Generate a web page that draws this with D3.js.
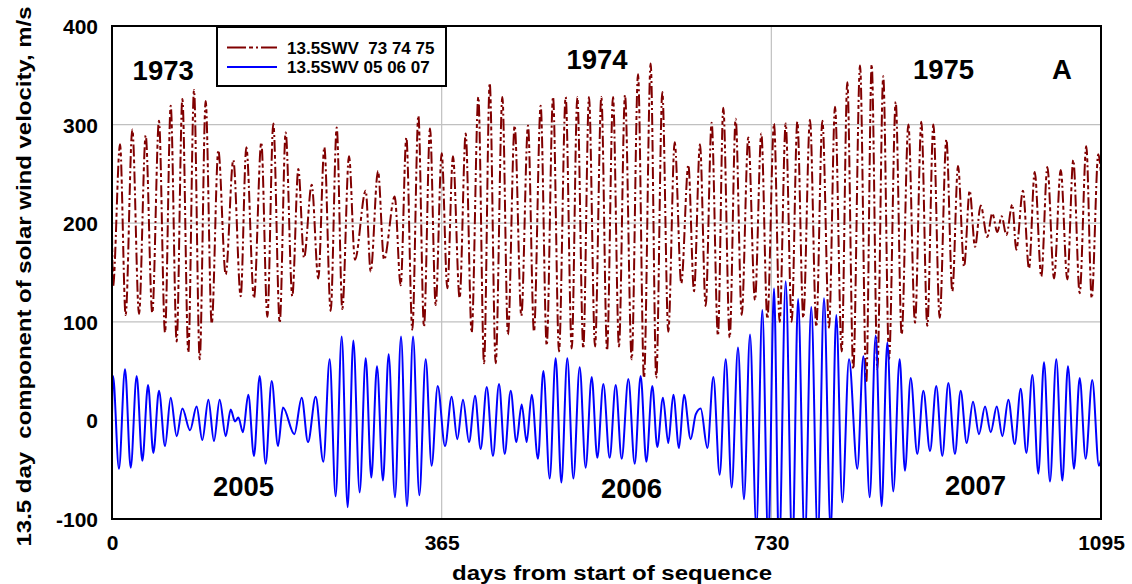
<!DOCTYPE html>
<html>
<head>
<meta charset="utf-8">
<script src="https://cdn.jsdelivr.net/npm/d3@7"></script>
<style>
  body { margin: 0; background: #fff; }
  text { font-family: 'Liberation Sans', Arial, sans-serif; font-weight: bold; fill: #000; white-space: pre; }
</style>
</head>
<body>
<svg id="chart" width="1132" height="584"></svg>
<script>
// peaks and troughs of the 13.5 day component
const redDays = [0, 1.1, 8.9, 15.1, 22.5, 29.9, 37.3, 44.6, 52.0, 58.7, 65.0, 71.6, 77.9, 84.5, 90.8, 97.1,
  103.7, 110.4, 117.7, 125.9, 134.3, 142.5, 148.7, 157.2, 165.3, 172.0, 178.6, 185.7, 192.3, 199.6, 206.3,
  212.6, 221.1, 228.4, 235.1, 242.1, 248.8, 255.0, 262.4, 269.0, 280.9, 286.4, 294.5, 301.2, 313.0, 319.6,
  325.9, 332.5, 339.2, 345.4, 352.1, 358.4, 365.0, 371.3, 377.5, 384.9, 391.6, 398.2, 405.6, 411.9, 418.2,
  424.8, 432.2, 438.4, 445.8, 453.2, 460.6, 467.2, 474.6, 481.3, 488.3, 494.9, 502.3, 509.0, 515.2, 521.8,
  528.1, 534.8, 541.8, 548.1, 554.7, 561.3, 568.0, 575.4, 582.4, 589.0, 596.4, 602.6, 609.3, 615.9, 623.0,
  630.3, 638.1, 644.4, 651.0, 657.3, 663.9, 670.9, 676.8, 683.9, 690.5, 697.2, 704.5, 711.9, 718.9, 725.6,
  733.0, 739.2, 745.9, 752.5, 758.8, 765.4, 772.8, 779.8, 786.5, 793.9, 800.5, 807.9, 814.1, 820.7, 828.2,
  835.1, 841.1, 847.4, 853.9, 860.3, 867.7, 874.3, 881.7, 889.1, 896.1, 902.7, 909.4, 916.4, 923.8, 930.4,
  936.7, 943.4, 949.6, 955.5, 961.8, 969.1, 974.6, 980.2, 985.0, 990.2, 996.8, 1001.2, 1008.6, 1015.3,
  1021.6, 1028.9, 1035.6, 1043.0, 1050.4, 1057.7, 1064.3, 1071.4, 1078.7, 1084.7, 1092.0, 1095]
const redValues = [190, 136, 280, 107, 295, 108, 289, 109, 304, 89, 319, 80, 326, 69, 335, 62,
  324, 98, 274, 148, 264, 126, 277, 124, 282, 105, 301, 99, 292, 126, 255,
  165, 239, 144, 277, 111, 297, 113, 268, 163, 233, 151, 253, 163, 227, 137,
  287, 92, 309, 95, 296, 117, 271, 134, 268, 124, 291, 89, 328, 58, 342,
  58, 328, 87, 299, 106, 299, 90, 319, 76, 328, 70, 328, 73, 328, 73,
  328, 75, 328, 71, 328, 75, 330, 62, 351, 43, 362, 43, 333, 90, 282,
  139, 259, 131, 280, 116, 302, 86, 317, 84, 306, 107, 287, 122, 291, 103,
  301, 100, 301, 100, 303, 104, 305, 95, 304, 94, 318, 70, 343, 52, 360,
  38, 361, 52, 349, 62, 323, 87, 300, 99, 303, 96, 300, 104, 285, 131,
  258, 156, 233, 176, 218, 186, 210, 191, 207, 188, 219, 173, 233, 154,
  252, 146, 257, 144, 254, 143, 264, 129, 278, 124, 270, 250]

const blueDays = [0, 1.1, 7.7, 14.4, 20.7, 27.3, 33.6, 39.9, 45.8, 52.0, 58.7, 65.0, 71.6, 77.9, 86.4, 93.7,
  100.0, 106.7, 112.9, 119.2, 125.9, 131.4, 136.2, 139.9, 145.0, 150.9, 157.2, 163.5, 170.1, 176.8, 183.8,
  189.3, 201.9, 210.0, 217.0, 225.5, 234.0, 241.0, 247.6, 254.3, 260.9, 267.2, 274.2, 280.9, 287.1, 293.4,
  300.0, 306.3, 313.3, 320.0, 326.6, 333.3, 340.3, 347.3, 353.9, 360.6, 368.7, 376.1, 382.3, 388.6, 395.3,
  401.9, 408.2, 414.9, 421.8, 428.5, 434.8, 441.4, 447.7, 453.6, 459.1, 464.7, 471.6, 477.6, 484.6, 491.2,
  497.5, 504.1, 510.8, 517.8, 524.4, 531.1, 537.3, 544.0, 551.0, 557.7, 564.3, 571.7, 578.7, 585.3, 591.6,
  598.2, 603.7, 610.0, 615.9, 621.5, 627.8, 633.3, 640.7, 646.3, 651.8, 659.2, 665.8, 672.8, 679.5, 686.1,
  693.1, 699.7, 706.4, 713.4, 720.0, 726.6, 733.0, 738.5, 745.9, 753.3, 759.6, 767.0, 774.2, 781.4, 788.3,
  795.7, 801.9, 808.6, 816.0, 825.2, 831.9, 838.9, 845.5, 852.1, 858.4, 865.0, 872.1, 877.9, 884.3, 891.6,
  898.3, 905.7, 912.6, 919.3, 926.0, 933.3, 939.6, 946.3, 953.3, 959.9, 966.6, 972.9, 979.6, 985.8, 992.4,
  999.5, 1006.1, 1012.4, 1019.0, 1025.6, 1031.9, 1038.5, 1045.5, 1052.2, 1058.4, 1065.1, 1071.4, 1078.0,
  1085.3, 1092.7, 1095]
const blueValues = [5, 45, -49, 52, -48, 45, -41, 36, -33, 30, -26, 23, -16, 12, -10, 14,
  -20, 21, -21, 21, -16, 11, -1, 3, -12, 26, -36, 45, -44, 40, -26,
  13, -14, 23, -22, 24, -42, 62, -77, 85, -88, 81, -73, 63, -58, 55,
  -61, 67, -78, 85, -87, 85, -76, 62, -46, 35, -26, 24, -19, 21, -22,
  25, -29, 34, -36, 37, -34, 30, -22, 16, -22, 26, -39, 50, -59, 63,
  -63, 63, -59, 54, -48, 44, -38, 37, -38, 36, -39, 42, -44, 45, -42,
  35, -27, 23, -23, 26, -28, 26, -19, 6, 12, -28, 44, -55, 62, -68,
  74, -80, 87, -110, 112, -125, 134, -135, 141, -135, 123, -125, 115, -120, 124,
  -112, 107, -83, 62, -49, 65, -78, 86, -87, 79, -72, 62, -51, 43, -34,
  30, -31, 35, -36, 38, -34, 30, -23, 19, -14, 14, -12, 14, -16, 21,
  -24, 32, -33, 46, -54, 59, -62, 62, -61, 55, -49, 43, -39,
  41, -46, -40]

const xTicks = [0, 365, 730, 1095]
const yTicks = [-100, 0, 100, 200, 300, 400]
const seriesNames = ['13.5SWV  73 74 75', '13.5SWV 05 06 07']
const upperYears = ['1973', '1974', '1975']
const lowerYears = ['2005', '2006', '2007']
const panelLetter = 'A'

const svg = d3.select('#chart')

const plot = { left: 112, right: 1101, top: 26, bottom: 519 }

const x = d3.scaleLinear()
  .domain([0, 1095])
  .range([plot.left, plot.right])
const y = d3.scaleLinear()
  .domain([-100, 400])
  .range([plot.bottom, plot.top])

const redColor = '#800000'
const blueColor = '#0000ff'
const redDash = '12,3,4,3,2,3'

svg.append('clipPath')
  .attr('id', 'clip')
  .append('rect')
  .attr('x', plot.left)
  .attr('y', plot.top)
  .attr('width', plot.right - plot.left)
  .attr('height', plot.bottom - plot.top)

// grid
svg.append('g')
  .selectAll('line')
  .data(yTicks.slice(1, -1))
  .enter()
  .append('line')
  .attr('x1', plot.left)
  .attr('x2', plot.right)
  .attr('y1', d => y(d))
  .attr('y2', d => y(d))
  .attr('stroke', '#c0c0c0')
  .attr('stroke-width', 1.2)

svg.append('g')
  .selectAll('line')
  .data(xTicks.slice(1, -1))
  .enter()
  .append('line')
  .attr('x1', d => x(d))
  .attr('x2', d => x(d))
  .attr('y1', plot.top)
  .attr('y2', plot.bottom)
  .attr('stroke', '#c0c0c0')
  .attr('stroke-width', 1.2)

const line = d3.line()
  .x(d => x(d[0]))
  .y(d => y(d[1]))
  .curve(d3.curveMonotoneX)

const lines = svg.append('g')
  .attr('clip-path', 'url(#clip)')

lines.append('path')
  .datum(d3.zip(redDays, redValues))
  .attr('fill', 'none')
  .attr('stroke', redColor)
  .attr('stroke-width', 2)
  .attr('stroke-dasharray', redDash)
  .attr('d', line)

lines.append('path')
  .datum(d3.zip(blueDays, blueValues))
  .attr('fill', 'none')
  .attr('stroke', blueColor)
  .attr('stroke-width', 2)
  .attr('d', line)

// frame
svg.append('rect')
  .attr('x', plot.left)
  .attr('y', plot.top)
  .attr('width', plot.right - plot.left)
  .attr('height', plot.bottom - plot.top)
  .attr('fill', 'none')
  .attr('stroke', '#000')
  .attr('stroke-width', 2)

// axes
const yAxis = svg.append('g')
  .attr('transform', 'translate(' + plot.left + ',0)')
  .call(d3.axisLeft(y).tickValues(yTicks).tickSize(0).tickPadding(14).tickFormat(d => String(d)))
yAxis.select('.domain').remove()
yAxis.selectAll('text')
  .style('font-size', '21px')
  .attr('dy', '0.36em')

const xAxis = svg.append('g')
  .attr('transform', 'translate(0,' + plot.bottom + ')')
  .call(d3.axisBottom(x).tickValues(xTicks).tickSize(0).tickPadding(16).tickFormat(d => String(d)))
xAxis.select('.domain').remove()
xAxis.selectAll('text')
  .style('font-size', '21px')

svg.append('text')
  .attr('transform', 'translate(31,' + ((plot.top + plot.bottom) / 2 + 4) + ') rotate(-90)')
  .attr('text-anchor', 'middle')
  .attr('textLength', 540)
  .attr('lengthAdjust', 'spacingAndGlyphs')
  .style('font-size', '20px')
  .text('13.5 day  component of solar wind velocity, m/s')

svg.append('text')
  .attr('x', 612)
  .attr('y', 580)
  .attr('text-anchor', 'middle')
  .attr('textLength', 320)
  .attr('lengthAdjust', 'spacingAndGlyphs')
  .style('font-size', '20px')
  .text('days from start of sequence')

// year labels
const upperPos = [[56.7, 345], [537, 356], [920.6, 346]]
const lowerPos = [[145.6, -77], [575.2, -79], [956.1, -76]]

svg.append('g')
  .selectAll('text')
  .data(upperYears.concat(lowerYears))
  .enter()
  .append('text')
  .attr('x', (d, i) => x(upperPos.concat(lowerPos)[i][0]))
  .attr('y', (d, i) => y(upperPos.concat(lowerPos)[i][1]))
  .attr('text-anchor', 'middle')
  .style('font-size', '27.5px')
  .text(d => d)

svg.append('text')
  .attr('x', x(1051.8))
  .attr('y', y(346))
  .attr('text-anchor', 'middle')
  .style('font-size', '27.5px')
  .text(panelLetter)

// legend
const legend = svg.append('g')
  .attr('transform', 'translate(217,27)')

legend.append('rect')
  .attr('width', 229)
  .attr('height', 59)
  .attr('fill', '#fff')
  .attr('stroke', '#000')
  .attr('stroke-width', 2)

const items = legend.selectAll('.item')
  .data(seriesNames)
  .enter()
  .append('g')
  .attr('class', 'item')
  .attr('transform', (d, i) => 'translate(0,' + (20.5 + i * 19.5) + ')')

items.append('line')
  .attr('x1', 10)
  .attr('x2', 60)
  .attr('stroke', (d, i) => i === 0 ? redColor : blueColor)
  .attr('stroke-width', 2)
  .attr('stroke-dasharray', (d, i) => i === 0 ? '19,3,4,3,2,3' : null)

items.append('text')
  .attr('x', 70)
  .attr('y', 6)
  .style('font-size', '17px')
  .text(d => d)
</script>
</body>
</html>
